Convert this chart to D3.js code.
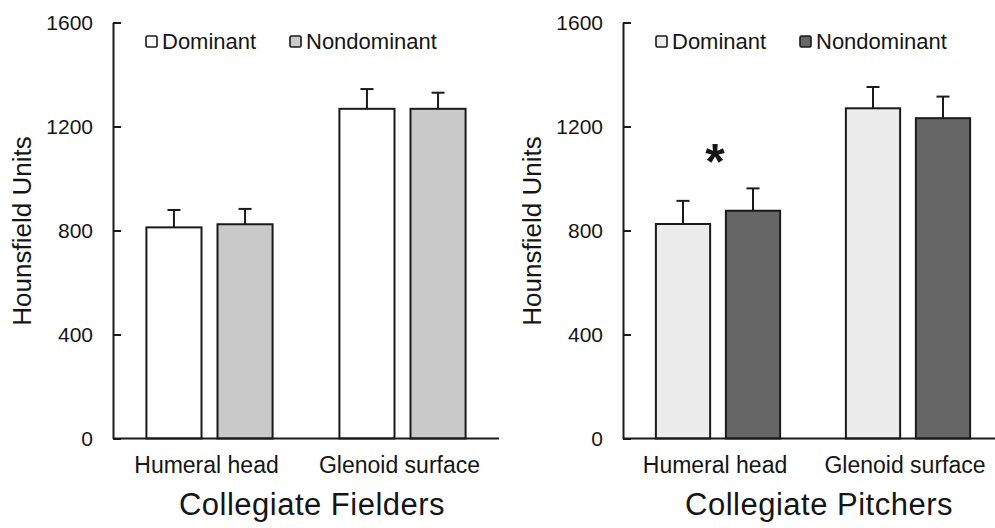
<!DOCTYPE html>
<html>
<head>
<meta charset="utf-8">
<script src="https://cdn.jsdelivr.net/npm/d3@7"></script>
<style>
	body { margin: 0; background: #fff; }
	text { font-family: "Liberation Sans", Arial, sans-serif; fill: #151515; }
</style>
</head>
<body>
<svg id="chart" width="995" height="528"></svg>
<script>
// data
var categories = ["Humeral head", "Glenoid surface"];
var series = ["Dominant", "Nondominant"];
var yTicks = [0, 400, 800, 1200, 1600];

var fieldersDominant = [812, 1268];
var fieldersDominantSE = [67, 76];
var fieldersNondominant = [824, 1268];
var fieldersNondominantSE = [59, 62];

var pitchersDominant = [825, 1270];
var pitchersDominantSE = [89, 82];
var pitchersNondominant = [876, 1232];
var pitchersNondominantSE = [86, 83];

var significance = [{ panel: 1, category: "Humeral head", value: 1100, label: "*" }];

var panels = [
	{ title: "Collegiate Fielders", left: 113, right: 499, fills: ["#ffffff", "#c9c9c9"],
	  means: [fieldersDominant, fieldersNondominant], se: [fieldersDominantSE, fieldersNondominantSE] },
	{ title: "Collegiate Pitchers", left: 623, right: 1003, fills: ["#ececec", "#666666"],
	  means: [pitchersDominant, pitchersNondominant], se: [pitchersDominantSE, pitchersNondominantSE] }
];

var svg = d3.select("#chart");
var y = d3.scaleLinear().domain([0, 1600]).range([438.5, 22.5]);

panels.forEach(function (p, pi) {
	var g = svg.append("g");

	var x0 = d3.scaleBand().domain(categories).range([p.left, p.right]);
	var x1 = d3.scaleBand().domain(series).range([0, x0.bandwidth()])
		.paddingInner(0.225).paddingOuter(0.47);

	// y axis, ticks pointing inward
	var yAxis = d3.axisLeft(y).tickValues(yTicks).tickFormat(d3.format("d"))
		.tickSizeInner(-8).tickSizeOuter(0).tickPadding(20);
	var ya = g.append("g").attr("transform", "translate(" + p.left + ",0)").call(yAxis);
	ya.attr("font-size", null).attr("font-family", null);
	ya.select(".domain").attr("stroke", "#1a1a1a").attr("stroke-width", 2);
	ya.selectAll(".tick line").attr("stroke", "#1a1a1a").attr("stroke-width", 2);
	ya.selectAll(".tick text").style("font-size", "21px").attr("fill", "#151515");

	g.append("text")
		.attr("transform", "translate(" + (p.left - 82) + ",231) rotate(-90)")
		.attr("text-anchor", "middle")
		.attr("font-size", 26)
		.text("Hounsfield Units");

	// bars
	series.forEach(function (s, si) {
		g.selectAll(".bar" + si)
			.data(categories)
			.enter().append("rect")
			.attr("x", function (c) { return x0(c) + x1(s); })
			.attr("y", function (c, i) { return y(p.means[si][i]); })
			.attr("width", x1.bandwidth())
			.attr("height", function (c, i) { return y(0) - y(p.means[si][i]); })
			.attr("fill", p.fills[si])
			.attr("stroke", "#1a1a1a")
			.attr("stroke-width", 2);

		// error bars (upper only)
		categories.forEach(function (c, i) {
			var cx = x0(c) + x1(s) + x1.bandwidth() / 2;
			var top = y(p.means[si][i] + p.se[si][i]);
			g.append("line")
				.attr("x1", cx).attr("x2", cx)
				.attr("y1", y(p.means[si][i])).attr("y2", top)
				.attr("stroke", "#1a1a1a").attr("stroke-width", 2);
			g.append("line")
				.attr("x1", cx - 6.5).attr("x2", cx + 6.5)
				.attr("y1", top).attr("y2", top)
				.attr("stroke", "#1a1a1a").attr("stroke-width", 2);
		});
	});

	// x axis line
	g.append("line")
		.attr("x1", p.left).attr("x2", p.right)
		.attr("y1", y(0)).attr("y2", y(0))
		.attr("stroke", "#1a1a1a").attr("stroke-width", 2);

	g.selectAll(".cat")
		.data(categories)
		.enter().append("text")
		.attr("x", function (c) { return x0(c) + x0.bandwidth() / 2 - 3; })
		.attr("y", 473)
		.attr("text-anchor", "middle")
		.attr("font-size", 23)
		.text(function (c) { return c; });

	g.append("text")
		.attr("x", (p.left + p.right) / 2 + 6)
		.attr("y", 515)
		.attr("text-anchor", "middle")
		.attr("font-size", 31)
		.attr("letter-spacing", 0.5)
		.text(p.title);

	// legend
	series.forEach(function (s, si) {
		var lx = p.left + 33 + si * 144;
		g.append("rect")
			.attr("x", lx).attr("y", 36)
			.attr("width", 11).attr("height", 11)
			.attr("rx", 1.5)
			.attr("fill", p.fills[si])
			.attr("stroke", "#1a1a1a").attr("stroke-width", 1.6);
		g.append("text")
			.attr("x", lx + 16).attr("y", 49)
			.attr("font-size", 22)
			.text(s);
	});

	// significance marks
	significance.filter(function (d) { return d.panel === pi; }).forEach(function (d) {
		g.append("text")
			.attr("x", x0(d.category) + x0.bandwidth() / 2 - 3)
			.attr("y", y(d.value) + 26)
			.attr("text-anchor", "middle")
			.attr("font-size", 50)
			.attr("font-weight", "bold")
			.attr("fill", "#333")
			.text(d.label);
	});
});
</script>
</body>
</html>
